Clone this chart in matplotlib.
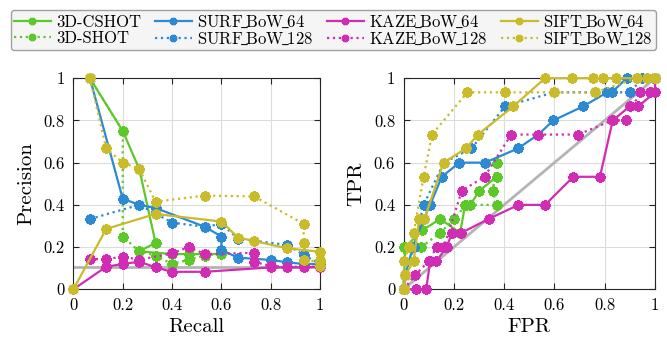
from matplotlib import pyplot as plt
import numpy as np

plt.rcParams['font.family'] = ['cmr10', 'DejaVu Serif']
plt.rcParams['mathtext.fontset'] = 'cm'
plt.rcParams['axes.formatter.use_mathtext'] = True

names = ['3D-CSHOT', '3D-SHOT', 'SURF_BoW_64', 'SURF_BoW_128',
         'KAZE_BoW_64', 'KAZE_BoW_128', 'SIFT_BoW_64', 'SIFT_BoW_128']

# precision / recall curves
pr_recall = {
    '3D-CSHOT': [0.067, 0.2, 0.267, 0.333, 0.267, 0.4, 0.467, 0.533, 0.6],
    '3D-SHOT': [0.067, 0.2, 0.2, 0.267, 0.333, 0.4, 0.467, 0.533, 0.6],
    'SURF_BoW_64': [0.067, 0.2, 0.267, 0.333, 0.533, 0.6, 0.6, 0.667, 0.8,
                    0.867, 0.933, 1.0],
    'SURF_BoW_128': [0.067, 0.267, 0.4, 0.533, 0.6, 0.667, 0.867, 0.933, 1.0],
    'KAZE_BoW_64': [0.0, 0.133, 0.2, 0.267, 0.333, 0.4, 0.533, 0.8, 0.867,
                    0.933, 1.0],
    'KAZE_BoW_128': [0.067, 0.133, 0.2, 0.267, 0.4, 0.467, 0.533, 0.733,
                     0.733, 0.8, 0.867, 0.933, 1.0],
    'SIFT_BoW_64': [0.0, 0.133, 0.333, 0.6, 0.667, 0.733, 0.867, 1.0, 1.0,
                    1.0],
    'SIFT_BoW_128': [0.067, 0.133, 0.2, 0.267, 0.333, 0.533, 0.733, 0.933,
                     0.933, 0.933, 1.0, 1.0],
}
pr_precision = {
    '3D-CSHOT': [1.0, 0.75, 0.57, 0.22, 0.18, 0.167, 0.167, 0.167, 0.167],
    '3D-SHOT': [1.0, 0.75, 0.25, 0.18, 0.16, 0.12, 0.14, 0.16, 0.17],
    'SURF_BoW_64': [1.0, 0.429, 0.40, 0.385, 0.296, 0.25, 0.186, 0.15, 0.139,
                    0.128, 0.12, 0.12],
    'SURF_BoW_128': [0.333, 0.40, 0.316, 0.296, 0.31, 0.24, 0.21, 0.163,
                     0.12],
    'KAZE_BoW_64': [0.0, 0.107, 0.12, 0.131, 0.104, 0.083, 0.083, 0.104,
                    0.104, 0.104, 0.107],
    'KAZE_BoW_128': [0.143, 0.143, 0.155, 0.14, 0.17, 0.2, 0.167, 0.173,
                     0.13, 0.11, 0.107, 0.107, 0.107],
    'SIFT_BoW_64': [0.0, 0.286, 0.357, 0.321, 0.245, 0.229, 0.194, 0.178,
                    0.14, 0.11],
    'SIFT_BoW_128': [1.0, 0.667, 0.6, 0.57, 0.415, 0.444, 0.44, 0.31, 0.22,
                     0.14, 0.13, 0.11],
}
pr_baseline = 0.107

# ROC curves
roc_fpr = {
    '3D-CSHOT': [0.0, 0.007, 0.075, 0.146, 0.225, 0.245, 0.265, 0.302, 0.37],
    '3D-SHOT': [0.0, 0.003, 0.07, 0.146, 0.2, 0.25, 0.37, 0.355, 0.37],
    'SURF_BoW_64': [0.0, 0.007, 0.037, 0.08, 0.106, 0.152, 0.222, 0.324,
                    0.455, 0.536, 0.596, 0.715, 0.81, 0.828, 0.888, 1.0],
    'SURF_BoW_128': [0.0, 0.007, 0.04, 0.08, 0.16, 0.27, 0.404, 0.6, 0.76,
                     0.81, 0.9, 0.95, 1.0],
    'KAZE_BoW_64': [0.0, 0.05, 0.09, 0.106, 0.13, 0.172, 0.192, 0.229, 0.338,
                    0.457, 0.563, 0.675, 0.781, 0.832, 0.9, 0.934, 1.0, 1.0],
    'KAZE_BoW_128': [0.0, 0.046, 0.1, 0.132, 0.16, 0.232, 0.322, 0.428,
                     0.536, 0.695, 0.83, 0.885, 0.94, 0.98, 1.0],
    'SIFT_BoW_64': [0.0, 0.007, 0.04, 0.062, 0.083, 0.159, 0.248, 0.296,
                    0.437, 0.563, 0.669, 0.752, 0.795, 0.845, 0.927, 0.967,
                    1.0],
    'SIFT_BoW_128': [0.0, 0.003, 0.02, 0.04, 0.08, 0.113, 0.254, 0.404, 0.6,
                     0.762, 0.927, 1.0],
}
roc_tpr = {
    '3D-CSHOT': [0.0, 0.2, 0.28, 0.333, 0.267, 0.4, 0.4, 0.467, 0.533],
    '3D-SHOT': [0.0, 0.2, 0.2, 0.267, 0.333, 0.4, 0.4, 0.467, 0.6],
    'SURF_BoW_64': [0.0, 0.067, 0.2, 0.333, 0.4, 0.533, 0.6, 0.6, 0.667,
                    0.733, 0.8, 0.867, 0.933, 0.933, 1.0, 1.0],
    'SURF_BoW_128': [0.0, 0.067, 0.2, 0.4, 0.6, 0.667, 0.867, 0.933, 0.933,
                     0.933, 0.933, 1.0, 1.0],
    'KAZE_BoW_64': [0.0, 0.0, 0.0, 0.133, 0.133, 0.2, 0.267, 0.267, 0.333,
                    0.4, 0.4, 0.533, 0.533, 0.8, 0.867, 0.867, 0.933, 1.0],
    'KAZE_BoW_128': [0.0, 0.067, 0.133, 0.2, 0.2, 0.467, 0.533, 0.733, 0.733,
                     0.733, 0.8, 0.8, 0.933, 0.933, 1.0],
    'SIFT_BoW_64': [0.0, 0.067, 0.133, 0.333, 0.333, 0.6, 0.667, 0.733,
                    0.867, 1.0, 1.0, 1.0, 1.0, 1.0, 1.0, 1.0, 1.0],
    'SIFT_BoW_128': [0.0, 0.133, 0.2, 0.267, 0.533, 0.733, 0.933, 0.933,
                     0.933, 0.933, 1.0, 1.0],
}

colors = {'3D': '#5cc82a', 'SURF': '#2c8ad2', 'KAZE': '#d02cb4',
          'SIFT': '#c9bb2a'}
tick_vals = [0, 0.2, 0.4, 0.6, 0.8, 1]
tick_labels = ['0', '0.2', '0.4', '0.6', '0.8', '1']


def style_axes(ax, xlabel, ylabel):
    ax.set_xlim(0, 1)
    ax.set_ylim(0, 1)
    ax.set_xticks(tick_vals)
    ax.set_yticks(tick_vals)
    ax.set_xticklabels(tick_labels)
    ax.set_yticklabels(tick_labels)
    ax.grid(True, color='#dcdcdc', linewidth=0.8)
    ax.set_axisbelow(True)
    ax.tick_params(direction='in', top=True, right=True, labelsize=12,
                   length=4, width=0.8, color='#262626', pad=6)
    for s in ax.spines.values():
        s.set_color('#262626')
        s.set_linewidth(0.8)
    ax.set_xlabel(xlabel, fontsize=15, labelpad=4)
    ax.set_ylabel(ylabel, fontsize=15, labelpad=6)


def legend_text(name):
    # latex style underscore, kerned tighter
    return name.replace('_', r'$\!\_\!$')


def draw(ax, xs, ys):
    handles = []
    for name in names:
        c = colors[name.split('_')[0].split('-')[0]]
        ls = '-' if name in ('3D-CSHOT', 'SURF_BoW_64', 'KAZE_BoW_64',
                             'SIFT_BoW_64') else ':'
        h, = ax.plot(xs[name], ys[name], color=c, linestyle=ls, linewidth=1.6,
                     marker=(8, 2, 0), markersize=7.5, markeredgewidth=2.2,
                     markeredgecolor=c, label=legend_text(name),
                     clip_on=False, zorder=3)
        handles.append(h)
    return handles


fig = plt.figure(figsize=(6.67, 3.49), dpi=100)
ax1 = fig.add_axes([0.110, 0.171, 0.370, 0.605])
ax2 = fig.add_axes([0.605, 0.171, 0.377, 0.605])

ax1.axhline(pr_baseline, color='#b4b4b4', linewidth=2, zorder=2.5)
handles = draw(ax1, pr_recall, pr_precision)
style_axes(ax1, 'Recall', 'Precision')

ax2.plot([0, 1], [0, 1], color='#b4b4b4', linewidth=2, zorder=2.5)
draw(ax2, roc_fpr, roc_tpr)
style_axes(ax2, 'FPR', 'TPR')

leg = fig.legend(handles=handles, loc='upper center', ncol=4,
                 bbox_to_anchor=(0.5, 0.995), fontsize=12, frameon=True,
                 fancybox=True, handlelength=2.2, columnspacing=0.8,
                 handletextpad=0.35, labelspacing=0.05, borderpad=0.2,
                 markerscale=0.7)
leg.get_frame().set_facecolor('#f5f5f5')
leg.get_frame().set_edgecolor('#a0a0a0')
leg.get_frame().set_alpha(1)

fig.savefig('out.png', dpi=100)
